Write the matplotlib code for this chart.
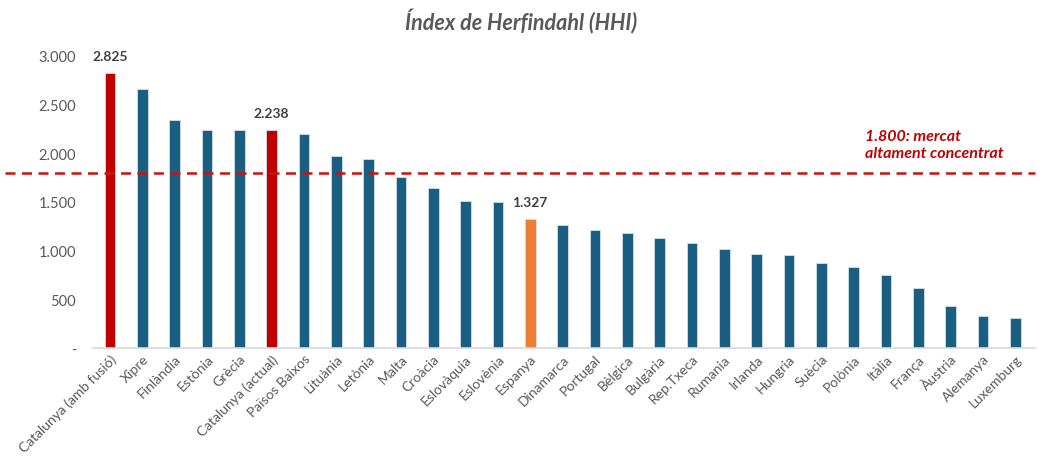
import numpy as np
import matplotlib.pyplot as plt
from matplotlib.ticker import FuncFormatter

paisos = ['Catalunya (amb fusió)', 'Xipre', 'Finlàndia', 'Estònia', 'Grècia',
          'Catalunya (actual)', 'Països Baixos', 'Lituània', 'Letònia', 'Malta',
          'Croàcia', 'Eslovàquia', 'Eslovènia', 'Espanya', 'Dinamarca', 'Portugal',
          'Bèlgica', 'Bulgària', 'Rep.Txeca', 'Rumania', 'Irlanda', 'Hungria',
          'Suècia', 'Polònia', 'Itàlia', 'França', 'Àustria', 'Alemanya', 'Luxemburg']
hhi = [2825, 2660, 2341, 2235, 2235, 2238, 2197, 1974, 1936, 1754,
       1638, 1511, 1497, 1327, 1260, 1212, 1184, 1133, 1081, 1016,
       965, 951, 872, 834, 755, 615, 433, 326, 312]
etiquetes = {0: '2.825', 5: '2.238', 13: '1.327'}
llindar = 1800

blau = '#1a5e82'
vermell = '#c00000'
taronja = '#ed7d31'
colors = [blau] * len(hhi)
colors[0] = vermell
colors[5] = vermell
colors[13] = taronja

plt.rcParams['font.family'] = ['Lato', 'DejaVu Sans']

fig = plt.figure(figsize=(10.43, 4.6), dpi=100)
ax = fig.add_axes([0.089, 0.241, 0.903, 0.636])

x = np.arange(len(hhi))
ax.bar(x, hhi, width=0.33, color=colors, edgecolor='#cfe0ea', linewidth=0.6, zorder=2)

for i, txt in etiquetes.items():
    ax.text(x[i], hhi[i] + 110, txt, ha='center', va='bottom', fontsize=10,
            fontweight='bold', color='#404040')

# línia de concentració
ax.axhline(llindar, xmin=-0.093, xmax=1.0, color='#cc1111', ls=(0, (4, 2.6)),
           lw=1.8, clip_on=False, zorder=3)
ax.text(23.35, 2090, '1.800: mercat\naltament concentrat', color='#c00000',
        fontsize=11.5, fontweight='bold', fontstyle='italic', ha='left', va='center',
        linespacing=1.25)

ax.set_xlim(-0.53, 28.6)
ax.set_ylim(0, 3000)
ax.set_yticks(np.arange(0, 3001, 500))
ax.yaxis.set_major_formatter(FuncFormatter(
    lambda v, p: '-' if v == 0 else f'{int(v):,}'.replace(',', '.')))
ax.set_xticks(x)
ax.set_xticklabels(paisos, rotation=45, ha='right', rotation_mode='anchor')
ax.tick_params(axis='both', length=0, labelsize=10, labelcolor='#595959')
ax.tick_params(axis='y', labelsize=10.5, pad=12)
ax.tick_params(axis='x', pad=3)

for s in ['top', 'right', 'left']:
    ax.spines[s].set_visible(False)
ax.spines['bottom'].set_color('#d9d9d9')
ax.spines['bottom'].set_linewidth(1.2)

fig.text(0.5, 0.952, 'Índex de Herfindahl (HHI)', ha='center', va='center',
         fontsize=15.5, fontweight='bold', fontstyle='italic', color='#595959')

fig.savefig('out.png', dpi=100)
